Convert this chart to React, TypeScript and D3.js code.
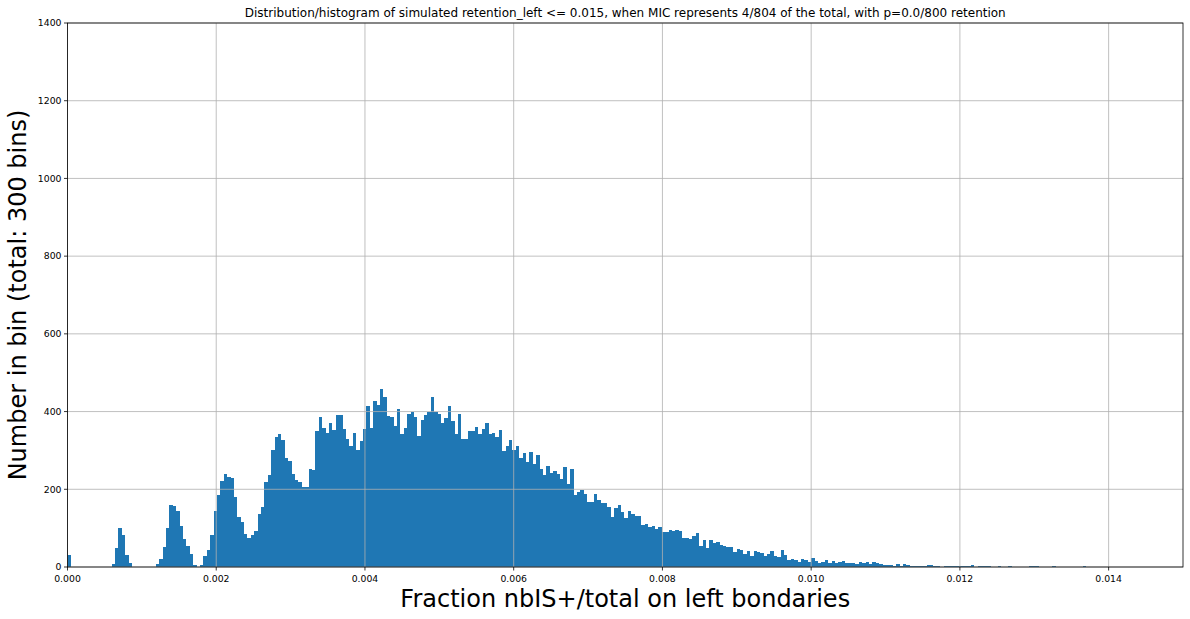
import React from 'react';
import * as d3 from 'd3';

// 300 bin counts, bins spanning [binStart, binEnd]
const counts: number[] = [
  31, 0, 0, 0, 0, 0, 0, 0, 0, 0,
  0, 0, 0, 8, 49, 100, 82, 31, 10, 0,
  0, 0, 0, 0, 0, 0, 7, 21, 51, 100,
  160, 157, 144, 105, 72, 54, 33, 5, 0, 5,
  28, 44, 82, 144, 185, 221, 239, 232, 229, 180,
  129, 116, 85, 75, 82, 93, 136, 154, 219, 237,
  301, 335, 342, 327, 280, 273, 239, 224, 219, 206,
  206, 252, 250, 350, 386, 358, 345, 371, 353, 391,
  391, 355, 329, 311, 345, 301, 324, 355, 414, 358,
  427, 417, 458, 437, 389, 386, 363, 407, 342, 358,
  394, 399, 386, 337, 378, 391, 399, 437, 399, 394,
  371, 383, 414, 376, 342, 394, 329, 329, 350, 350,
  360, 342, 355, 371, 342, 345, 335, 353, 299, 311,
  327, 301, 311, 281, 293, 270, 296, 265, 288, 252,
  237, 260, 242, 247, 239, 226, 257, 214, 252, 185,
  193, 198, 188, 167, 167, 188, 172, 165, 165, 154,
  129, 152, 160, 142, 126, 144, 136, 131, 131, 108,
  111, 103, 106, 98, 103, 90, 90, 95, 93, 95,
  93, 75, 75, 72, 80, 88, 54, 69, 49, 69,
  62, 64, 57, 54, 51, 51, 39, 46, 44, 33,
  41, 28, 41, 39, 36, 28, 33, 41, 28, 26,
  44, 31, 18, 21, 18, 13, 21, 18, 13, 23,
  15, 10, 13, 18, 10, 15, 10, 13, 15, 10,
  10, 10, 8, 13, 10, 13, 8, 13, 10, 8,
  5, 5, 5, 3, 8, 3, 8, 5, 3, 3,
  3, 3, 3, 5, 5, 3, 3, 0, 3, 3,
  3, 3, 3, 3, 3, 3, 5, 0, 3, 3,
  3, 3, 0, 0, 3, 0, 0, 3, 0, 0,
  0, 0, 0, 2, 2, 2, 0, 0, 0, 0,
  2, 0, 0, 0, 0, 0, 0, 0, 0, 2,
];
const binStart = 0;
const binEnd = 0.0137;

const xDomain = [0, 0.015];
const yDomain = [0, 1400];
const xTicks = [0, 0.002, 0.004, 0.006, 0.008, 0.01, 0.012, 0.014];
const yTicks = [0, 200, 400, 600, 800, 1000, 1200, 1400];

const title =
  'Distribution/histogram of simulated retention_left <= 0.015, when MIC represents 4/804 of the total, with p=0.0/800 retention';
const xLabel = 'Fraction nbIS+/total on left bondaries';
const yLabel = 'Number in bin (total: 300 bins)';

export default function App() {
  const W = 1190;
  const H = 619;
  const left = 67.5;
  const right = 1183;
  const top = 23;
  const bottom = 567;
  const x = d3.scaleLinear().domain(xDomain).range([left, right]);
  const y = d3.scaleLinear().domain(yDomain).range([bottom, top]);
  const bw = (binEnd - binStart) / counts.length;
  const font = '"DejaVu Sans", sans-serif';
  const fmt = d3.format('.3f');

  return (
    <svg
      width={W}
      height={H}
      style={{ position: 'absolute', left: 0, top: 0, background: '#fff' }}
      fontFamily={font}
    >
      <rect x={0} y={0} width={W} height={H} fill="#fff" />
      <g shapeRendering="crispEdges">
        {counts.map((c, i) =>
          c > 0 ? (
            <rect
              key={i}
              x={x(binStart + i * bw)}
              y={y(c)}
              width={x(binStart + (i + 1) * bw) - x(binStart + i * bw)}
              height={y(0) - y(c)}
              fill="#1f77b4"
            />
          ) : null
        )}
      </g>
      {/* grid above bars */}
      <g stroke="#b0b0b0" strokeWidth={0.8}>
        {xTicks.map((t) => (
          <line key={'gx' + t} x1={x(t)} x2={x(t)} y1={top} y2={bottom} />
        ))}
        {yTicks.map((t) => (
          <line key={'gy' + t} x1={left} x2={right} y1={y(t)} y2={y(t)} />
        ))}
      </g>
      {/* spines */}
      <rect
        x={left}
        y={top}
        width={right - left}
        height={bottom - top}
        fill="none"
        stroke="#000"
        strokeWidth={0.8}
      />
      {/* x ticks */}
      {xTicks.map((t) => (
        <g key={'xt' + t}>
          <line x1={x(t)} x2={x(t)} y1={bottom} y2={bottom + 3.5} stroke="#000" strokeWidth={0.8} />
          <text x={x(t)} y={bottom + 15} fontSize={9.3} textAnchor="middle" fill="#000">
            {fmt(t)}
          </text>
        </g>
      ))}
      {/* y ticks */}
      {yTicks.map((t) => (
        <g key={'yt' + t}>
          <line x1={left - 3.5} x2={left} y1={y(t)} y2={y(t)} stroke="#000" strokeWidth={0.8} />
          <text x={left - 6} y={y(t) + 3.3} fontSize={9.3} textAnchor="end" fill="#000">
            {t}
          </text>
        </g>
      ))}
      <text x={(left + right) / 2} y={17} fontSize={12} textAnchor="middle" fill="#000">
        {title}
      </text>
      <text x={(left + right) / 2} y={607} fontSize={24} textAnchor="middle" fill="#000">
        {xLabel}
      </text>
      <text
        transform={`translate(26, ${(top + bottom) / 2}) rotate(-90)`}
        fontSize={24}
        textAnchor="middle"
        fill="#000"
      >
        {yLabel}
      </text>
    </svg>
  );
}
